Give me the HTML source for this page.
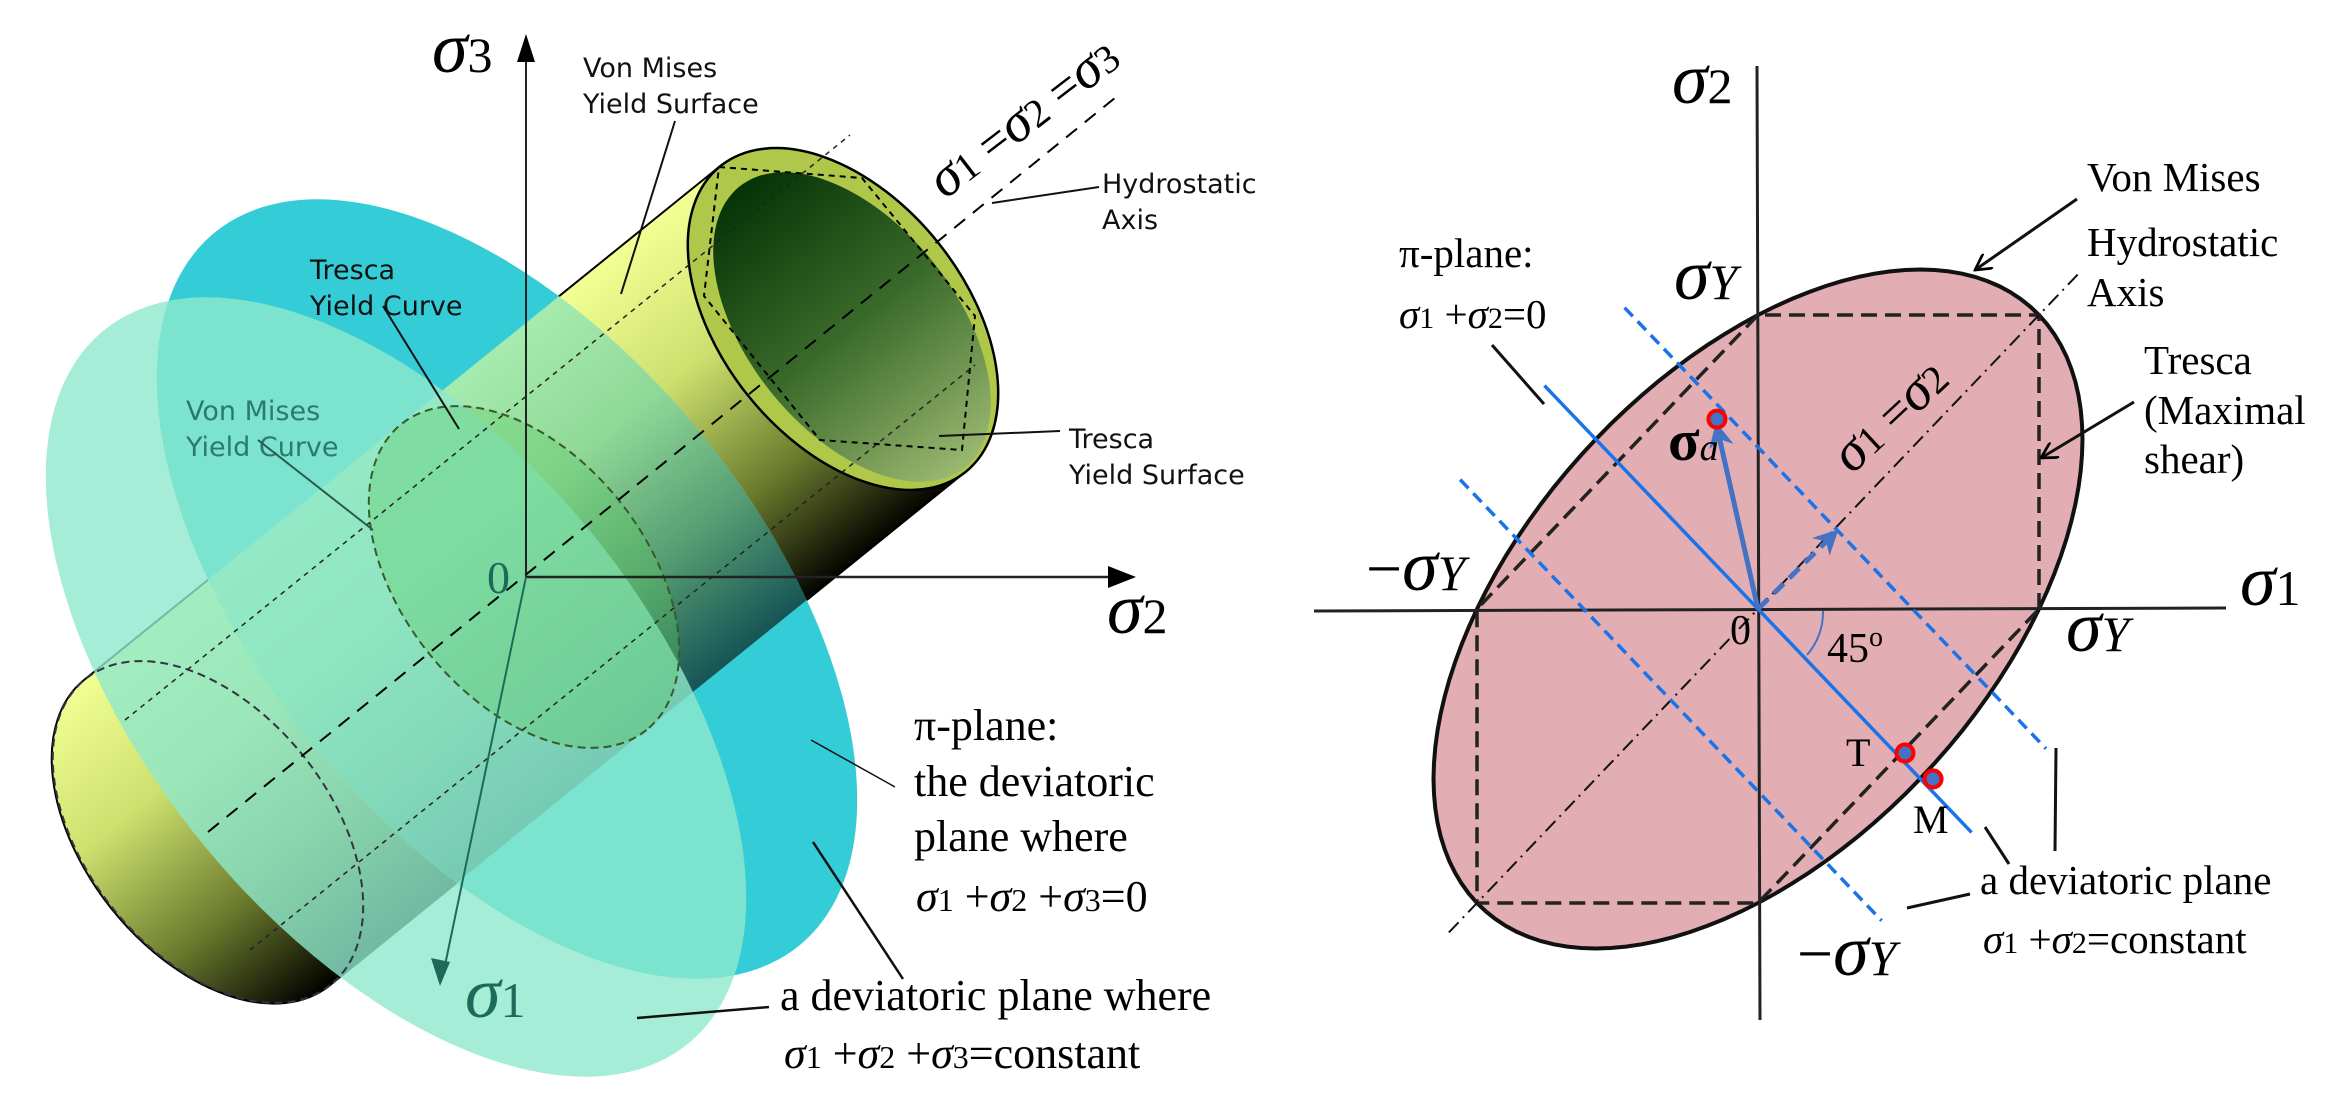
<!DOCTYPE html>
<html><head><meta charset="utf-8"><style>
html,body{margin:0;padding:0;background:#fff;width:2335px;height:1116px;overflow:hidden;}
svg{display:block;}
.sans{font-family:"DejaVu Sans","Liberation Sans",sans-serif;}
.serif{font-family:"Liberation Serif",serif;}
</style></head><body>
<svg id="fig" width="2335" height="1116" viewBox="0 0 2335 1116" xmlns="http://www.w3.org/2000/svg" overflow="hidden">
<defs>
  <linearGradient id="bodyGrad" gradientUnits="userSpaceOnUse" x1="719" y1="167" x2="964" y2="473">
    <stop offset="0" stop-color="#f2ff94"/><stop offset="0.35" stop-color="#cde06e"/>
    <stop offset="0.7" stop-color="#6c7c2e"/><stop offset="1" stop-color="#050500"/>
  </linearGradient>
  <linearGradient id="capGrad" gradientUnits="userSpaceOnUse" x1="60" y1="700" x2="330" y2="1000">
    <stop offset="0" stop-color="#9ad02a"/><stop offset="0.5" stop-color="#5a7a18"/><stop offset="1" stop-color="#0a0a00"/>
  </linearGradient>
  <linearGradient id="innerGrad" x1="0" y1="0" x2="1" y2="0">
    <stop offset="0" stop-color="#063306"/><stop offset="0.5" stop-color="#3a6a2a"/><stop offset="1" stop-color="#9ab870"/>
  </linearGradient>
  <mask id="outsideBlue">
    <rect x="0" y="0" width="1200" height="1116" fill="#fff"/>
    <ellipse cx="507" cy="589" rx="461" ry="249" transform="rotate(50.6 507 589)" fill="#000"/>
  </mask>
  <marker id="arrBlue" viewBox="0 0 10 10" refX="8" refY="5" markerWidth="5" markerHeight="5" orient="auto"><path d="M0,0 L10,5 L0,10 L3,5 z" fill="#4472c4"/></marker>
  <marker id="arrOpen" viewBox="0 0 10 10" refX="9" refY="5" markerWidth="6" markerHeight="6" orient="auto"><path d="M0,0 L9,5 L0,10" fill="none" stroke="#000" stroke-width="1.5"/></marker>
</defs>

<g>
  <ellipse cx="507" cy="589" rx="461" ry="249" transform="rotate(50.6 507 589)" fill="#34cdd7"/>
  <g opacity="0.6">
    <ellipse cx="208" cy="832" rx="196" ry="122" transform="rotate(51.3 208 832)" fill="url(#capGrad)"/>
    <path d="M719,167 L84,680 A196,122 51.3 0 0 329,986 L964,473 A196,122 51.3 0 0 719,167 Z" fill="url(#bodyGrad)"/>
  </g>
  <g mask="url(#outsideBlue)">
    <ellipse cx="208" cy="832" rx="196" ry="122" transform="rotate(51.3 208 832)" fill="url(#capGrad)"/>
    <path d="M719,167 L84,680 A196,122 51.3 0 0 329,986 L964,473 A196,122 51.3 0 0 719,167 Z" fill="url(#bodyGrad)" stroke="#000" stroke-width="2"/>
  </g>
  <ellipse cx="396" cy="687" rx="461" ry="249" transform="rotate(50.6 396 687)" fill="#8ee8cc" opacity="0.8"/>
  <ellipse cx="843" cy="319" rx="196" ry="122" transform="rotate(51.3 843 319)" fill="#b0c84a" stroke="#000" stroke-width="2.5"/>
  <ellipse cx="852" cy="327" rx="180" ry="104" transform="rotate(51.3 852 327)" fill="url(#innerGrad)"/>
  <polygon points="719,167 862,178 975,316 962,450 820,440 704,296" fill="none" stroke="#000" stroke-width="2" stroke-dasharray="6,5"/>
  <ellipse cx="524" cy="577" rx="196" ry="122" transform="rotate(51.3 524 577)" fill="#5cc860" fill-opacity="0.35" stroke="#3a5a2a" stroke-width="2" stroke-dasharray="8,5"/>
  <ellipse cx="208" cy="832" rx="196" ry="122" transform="rotate(51.3 208 832)" fill="none" stroke="#334" stroke-width="2" stroke-dasharray="8,5"/>
  <line x1="208" y1="832" x2="1121" y2="93" stroke="#000" stroke-width="2" stroke-dasharray="14,10"/>
  <line x1="125" y1="720" x2="850" y2="135" stroke="#222" stroke-width="1.5" stroke-dasharray="5,5"/>
  <line x1="250" y1="950" x2="975" y2="365" stroke="#222" stroke-width="1.5" stroke-dasharray="5,5"/>
  <line x1="526" y1="577" x2="526" y2="50" stroke="#222" stroke-width="2"/>
  <polygon points="526,34 517,62 535,62" fill="#000"/>
  <line x1="526" y1="577" x2="1118" y2="577" stroke="#222" stroke-width="2.5"/>
  <polygon points="1136,577 1108,566 1108,588" fill="#000"/>
  <line x1="526" y1="577" x2="444" y2="970" stroke="#1e6a5a" stroke-width="2"/>
  <polygon points="440,986 431,958 450,962" fill="#1e6a5a"/>
  <text class="serif" x="432" y="72"><tspan font-style="italic" font-size="72">σ</tspan><tspan font-size="50">3</tspan></text>
  <text class="serif" x="1107" y="633"><tspan font-style="italic" font-size="72">σ</tspan><tspan font-size="50">2</tspan></text>
  <text class="serif" fill="#1e6a5a" x="465" y="1017"><tspan font-style="italic" font-size="72">σ</tspan><tspan font-size="50">1</tspan></text>
  <text class="serif" fill="#1e6a5a" font-size="46" x="487" y="593">0</text>
  <g class="sans" font-size="27" fill="#111">
    <text x="583" y="77">Von Mises<tspan x="583" dy="36">Yield Surface</tspan></text>
    <text x="1102" y="193">Hydrostatic<tspan x="1102" dy="36">Axis</tspan></text>
    <text x="310" y="279">Tresca<tspan x="310" dy="36">Yield Curve</tspan></text>
    <text x="186" y="420" fill="#2a7a70">Von Mises<tspan x="186" dy="36">Yield Curve</tspan></text>
    <text x="1069" y="448">Tresca<tspan x="1069" dy="36">Yield Surface</tspan></text>
  </g>
  <g stroke="#111" stroke-width="2">
    <line x1="675" y1="121" x2="621" y2="294"/>
    <line x1="992" y1="203" x2="1099" y2="187"/>
    <line x1="383" y1="306" x2="459" y2="429"/>
    <line x1="258" y1="440" x2="373" y2="530" stroke="#2a5a50"/>
    <line x1="939" y1="436" x2="1060" y2="431"/>
    <line x1="811" y1="740" x2="895" y2="787" stroke-width="1.5"/>
    <line x1="813" y1="842" x2="903" y2="979" stroke-width="2.5"/>
    <line x1="637" y1="1018" x2="769" y2="1007" stroke-width="2.5"/>
  </g>
  <text class="serif" transform="translate(945,200) rotate(-37.5)"><tspan font-style="italic" font-size="56">σ</tspan><tspan font-size="40">1</tspan><tspan font-size="50"> =</tspan><tspan font-style="italic" font-size="56">σ</tspan><tspan font-size="40">2</tspan><tspan font-size="50"> =</tspan><tspan font-style="italic" font-size="56">σ</tspan><tspan font-size="40">3</tspan></text>
  <g class="serif" font-size="44" fill="#000">
    <text x="914" y="740">π-plane:</text>
    <text x="914" y="796">the deviatoric</text>
    <text x="914" y="851">plane where</text>
    <text x="916" y="911"><tspan font-style="italic">σ</tspan><tspan font-size="32">1</tspan> +<tspan font-style="italic">σ</tspan><tspan font-size="32">2</tspan> +<tspan font-style="italic">σ</tspan><tspan font-size="32">3</tspan>=0</text>
    <text x="780" y="1010">a deviatoric plane where</text>
    <text x="784" y="1068"><tspan font-style="italic">σ</tspan><tspan font-size="32">1</tspan> +<tspan font-style="italic">σ</tspan><tspan font-size="32">2</tspan> +<tspan font-style="italic">σ</tspan><tspan font-size="32">3</tspan>=constant</text>
  </g>
</g>

<g id="right"></g>
<g class="serif" fill="#000">
  <text x="1672" y="103"><tspan font-style="italic" font-size="72">σ</tspan><tspan font-size="50">2</tspan></text>
  <text x="2240" y="605"><tspan font-style="italic" font-size="72">σ</tspan><tspan font-size="50">1</tspan></text>
  <text x="1674" y="299"><tspan font-style="italic" font-size="72">σ</tspan><tspan font-style="italic" font-size="50">Y</tspan></text>
  <text x="1366" y="590"><tspan font-size="64">−</tspan><tspan font-style="italic" font-size="72">σ</tspan><tspan font-style="italic" font-size="50">Y</tspan></text>
  <text x="2066" y="651"><tspan font-style="italic" font-size="72">σ</tspan><tspan font-style="italic" font-size="50">Y</tspan></text>
  <text x="1797" y="975"><tspan font-size="64">−</tspan><tspan font-style="italic" font-size="72">σ</tspan><tspan font-style="italic" font-size="50">Y</tspan></text>
  <text x="1730" y="644" font-size="42">0</text>
  <text x="1827" y="662" font-size="42">45<tspan font-size="28" dy="-16">o</tspan></text>
  <text x="1668" y="460"><tspan font-weight="bold" font-size="58">σ</tspan><tspan font-style="italic" font-size="38">a</tspan></text>
  <text x="1846" y="766" font-size="40">T</text>
  <text x="1913" y="833" font-size="40">M</text>
  <text transform="translate(1852,475) rotate(-43)"><tspan font-style="italic" font-size="56">σ</tspan><tspan font-size="40">1</tspan><tspan font-size="50"> =</tspan><tspan font-style="italic" font-size="56">σ</tspan><tspan font-size="40">2</tspan></text>
  <g font-size="41">
    <text x="1399" y="267">π-plane:</text>
    <text x="1399" y="328"><tspan font-style="italic">σ</tspan><tspan font-size="30">1</tspan> +<tspan font-style="italic">σ</tspan><tspan font-size="30">2</tspan>=0</text>
    <text x="2087" y="191">Von Mises</text>
    <text x="2087" y="256">Hydrostatic<tspan x="2087" dy="50">Axis</tspan></text>
    <text x="2144" y="374">Tresca<tspan x="2144" dy="50">(Maximal</tspan><tspan x="2144" dy="49">shear)</tspan></text>
    <text x="1980" y="894">a deviatoric plane</text>
    <text x="1983" y="953"><tspan font-style="italic">σ</tspan><tspan font-size="30">1</tspan> +<tspan font-style="italic">σ</tspan><tspan font-size="30">2</tspan>=constant</text>
  </g>
</g>

<script>
const trescaU = [1, 1, 0, -1, -1, 0];
const trescaV = [0, 1, 1, 0, -1, -1];
const pointNames = ['sigma-a', 'T', 'M'];
const pointU = [-0.146, 0.523, 0.623];
const pointV = [0.646, -0.49, -0.578];
const hydroTipU = [0.274];
const hydroTipV = [0.259];
const planeOffsets = [0.55, -0.62];

const NS = 'http://www.w3.org/2000/svg';
const OX = 1758, OY = 609, SX = 281, SY = 294;
function X(u){ return OX + u*SX; }
function Y(v){ return OY - v*SY; }
const g = document.getElementById('right');
function mk(tag, attrs){ const e = document.createElementNS(NS, tag); for (const k in attrs) e.setAttribute(k, attrs[k]); g.appendChild(e); return e; }

let d = '';
for (let i = 0; i <= 120; i++) {
  const t = i/120*2*Math.PI;
  const u = Math.cos(t) + Math.sin(t)/Math.sqrt(3), v = Math.cos(t) - Math.sin(t)/Math.sqrt(3);
  d += (i ? 'L' : 'M') + X(u).toFixed(1) + ',' + Y(v).toFixed(1);
}
const ell = mk('path', {d: d + 'Z', fill: '#e2aeb3', stroke: '#111', 'stroke-width': 4});



let hp = '';
for (let i = 0; i < trescaU.length; i++) hp += X(trescaU[i]) + ',' + Y(trescaV[i]) + ' ';
const hex = mk('polygon', {points: hp, fill: 'none', stroke: '#222', 'stroke-width': 3.5, 'stroke-dasharray': '16,8'});



const ax1 = mk('line', {x1: 1314, y1: 611, x2: 2226, y2: 608, stroke: '#222', 'stroke-width': 3});


const ax2 = mk('line', {x1: 1757, y1: 66, x2: 1760, y2: 1020, stroke: '#222', 'stroke-width': 3});



const hy = mk('line', {x1: X(-1.1), y1: Y(-1.1), x2: X(1.14), y2: Y(1.14), stroke: '#111', 'stroke-width': 2, 'stroke-dasharray': '14,6,2,6'});



const pl = mk('line', {x1: X(-0.76), y1: Y(0.76), x2: X(0.76), y2: Y(-0.76), stroke: '#1a73e8', 'stroke-width': 3.5});


for (let i = 0; i < planeOffsets.length; i++) {
  const c = planeOffsets[i];
  const u1 = c/2 - 0.75, u2 = c/2 + 0.75;
  const ln = mk('line', {x1: X(u1), y1: Y(c-u1), x2: X(u2), y2: Y(c-u2), stroke: '#1a73e8', 'stroke-width': 3.5, 'stroke-dasharray': '12,7'});
  
  
}
const va = mk('line', {x1: OX, y1: OY, x2: X(pointU[0]), y2: Y(pointV[0]) + 8, stroke: '#4472c4', 'stroke-width': 5, 'marker-end': 'url(#arrBlue)'});


const vh = mk('line', {x1: OX, y1: OY, x2: X(hydroTipU[0]), y2: Y(hydroTipV[0]), stroke: '#4472c4', 'stroke-width': 5, 'stroke-dasharray': '14,8', 'marker-end': 'url(#arrBlue)'});


const arc = mk('path', {d: 'M1823,611 A65,65 0 0 1 1807,655', fill: 'none', stroke: '#4472c4', 'stroke-width': 2});


for (let i = 0; i < pointU.length; i++) {
  const c = mk('circle', {cx: X(pointU[i]), cy: Y(pointV[i]), r: 8.5, fill: '#4472c4', stroke: '#f00', 'stroke-width': 4});
  
  
}
const leaders = [[1492,345,1544,404],[2056,748,2055,851],[1985,827,2009,864],[1907,908,1970,894]];
leaders.forEach(l => {
  const ln = mk('line', {x1: l[0], y1: l[1], x2: l[2], y2: l[3], stroke: '#111', 'stroke-width': 3});
  
  
});
const a1 = mk('line', {x1: 2077, y1: 199, x2: 1975, y2: 270, stroke: '#111', 'stroke-width': 3, 'marker-end': 'url(#arrOpen)'});


const a2 = mk('line', {x1: 2134, y1: 402, x2: 2041, y2: 458, stroke: '#111', 'stroke-width': 3, 'marker-end': 'url(#arrOpen)'});


</script>
</svg>
</body></html>
